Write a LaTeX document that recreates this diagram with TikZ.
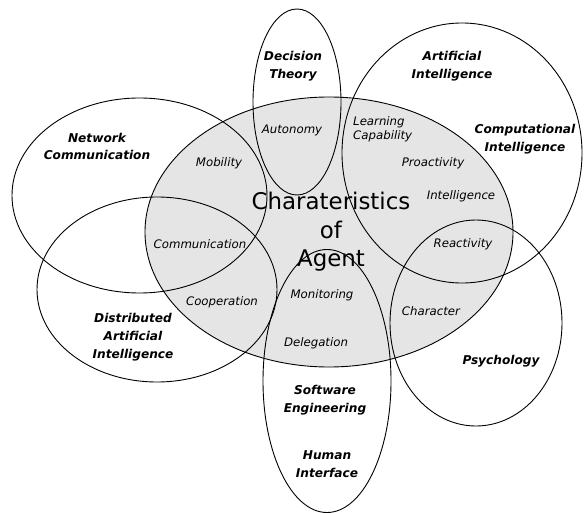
\documentclass[tikz,border=0pt]{standalone}
\usepackage{fontspec}
\setmainfont{DejaVu Sans}
\tikzset{
  ring/.style={draw=black, line width=0.9bp},
  trait/.style={font=\fontsize{11.8}{14.5}\selectfont\itshape, inner sep=0pt, align=left},
  field/.style={font=\fontsize{12.2}{18}\selectfont\bfseries\itshape, align=center, inner sep=0pt},
  maintitle/.style={font=\fontsize{23}{28.5}\selectfont, align=center, inner sep=0pt},
}
\begin{document}
\begin{tikzpicture}[x=1bp,y=-1bp]
\useasboundingbox (0,0) rectangle (584,513);
% central set
\fill[black!10] (329,232) ellipse [x radius=184bp, y radius=135bp];
% outlines
\draw[ring] (329,232) ellipse [x radius=184bp, y radius=135bp];
\draw[ring] (297,102) ellipse [x radius=44bp, y radius=93bp];
\draw[ring] (462,153) ellipse [x radius=120bp, y radius=130bp];
\draw[ring] (139.5,195.5) ellipse [x radius=127.5bp, y radius=97.5bp];
\draw[ring] (157,289.5) ellipse [x radius=120bp, y radius=92.5bp];
\draw[ring] (327,381) ellipse [x radius=64bp, y radius=131.5bp];
\draw[ring] (476,323) ellipse [x radius=86bp, y radius=103bp];
% title
\node[maintitle] (title) at (331,232) {Charateristics\\of\\Agent};
% characteristics
\node[trait] (auto) at (292,130) {Autonomy};
\node[trait] (mob) at (219,163) {Mobility};
\node[trait] (comm) at (200,244) {Communication};
\node[trait] (coop) at (222,302) {Cooperation};
\node[trait] (moni) at (322,295) {Monitoring};
\node[trait] (dele) at (316,343) {Delegation};
\node[trait, anchor=west] (learn) at (353,129) {Learning\\Capability};
\node[trait] (proa) at (433,163) {Proactivity};
\node[trait] (intel) at (461,196) {Intelligence};
\node[trait] (reac) at (463,244) {Reactivity};
\node[trait] (char) at (431,311) {Character};
% fields
\node[field] (dt) at (293,66) {Decision\\Theory};
\node[field] (ai) at (452,66) {Artificial\\Intelligence};
\node[field] (ci) at (525,139) {Computational\\Intelligence};
\node[field] (nc) at (97,146.5) {Network\\Communication};
\node[field] (dai) at (133,337) {Distributed\\Artificial\\Intelligence};
\node[field] (psy) at (501,361) {Psychology};
\node[field] (se) at (325,400.5) {Software\\Engineering};
\node[field] (hi) at (327,464) {Human\\Interface};
\end{tikzpicture}
\end{document}
